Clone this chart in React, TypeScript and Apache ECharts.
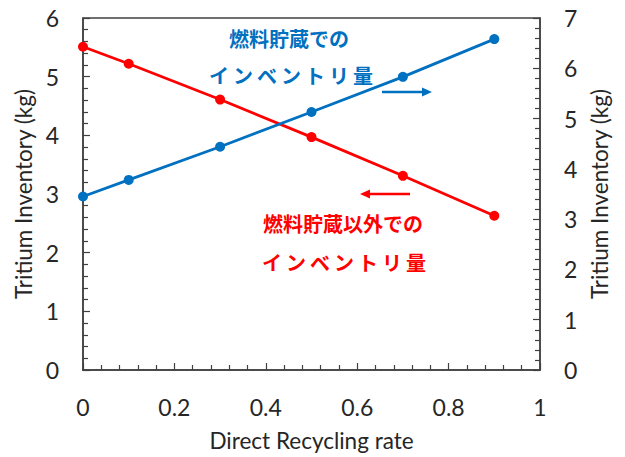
import React, { useEffect, useRef } from "react";
import * as echarts from "echarts";

const xRates = [0, 0.1, 0.3, 0.5, 0.7, 0.9];
const otherInventory = [5.51, 5.22, 4.61, 3.97, 3.31, 2.63];
const storageInventory = [3.45, 3.78, 4.44, 5.13, 5.83, 6.58];
const xTitle = "Direct Recycling rate";
const yTitle = "Tritium Inventory (kg)";
const storageLabel = ["燃料貯蔵での", "インベントリ量"];
const otherLabel = ["燃料貯蔵以外での", "インベントリ量"];

const BLUE = "#0070C0";
const RED = "#FF0000";
const AXIS = "#404040";
const TEXT = "#262626";
const FONT = "Lato, 'Open Sans', sans-serif";
const CJK = "'Noto Sans CJK JP', sans-serif";

export default function App() {
  const ref = useRef<HTMLDivElement>(null);
  useEffect(() => {
    if (!ref.current) return;
    const chart = echarts.init(ref.current, undefined, { renderer: "svg" });
    const axisCommon = {
      axisLine: { show: true, lineStyle: { color: AXIS, width: 1.5 } },
      axisTick: { show: true, inside: true, length: 7, lineStyle: { color: AXIS, width: 1.2 } },
      minorTick: { show: true, splitNumber: 5, length: 5, lineStyle: { color: AXIS, width: 1.2 } },
      splitLine: { show: false },
      axisLabel: { color: TEXT, fontSize: 23, fontFamily: FONT, margin: 24 },
      nameTextStyle: { color: TEXT, fontSize: 22.5, fontFamily: FONT },
    };
    chart.setOption({
      animation: false,
      backgroundColor: "#fff",
      grid: {
        left: 83,
        right: 85,
        top: 18,
        bottom: 85,
        show: true,
        borderColor: AXIS,
        borderWidth: 1.5,
        backgroundColor: "transparent",
      },
      xAxis: {
        type: "value",
        min: 0,
        max: 1,
        interval: 0.2,
        ...axisCommon,
        axisLabel: { ...axisCommon.axisLabel, margin: 25 },
        name: xTitle,
        nameLocation: "middle",
        nameGap: 59,
      },
      yAxis: [
        {
          type: "value",
          min: 0,
          max: 6,
          interval: 1,
          position: "left",
          ...axisCommon,
          name: yTitle,
          nameLocation: "middle",
          nameGap: 44,
          nameRotate: 90,
        },
        {
          type: "value",
          min: 0,
          max: 7,
          interval: 1,
          position: "right",
          ...axisCommon,
          name: yTitle,
          nameLocation: "middle",
          nameGap: 46,
          nameRotate: 90,
        },
      ],
      series: [
        {
          type: "line",
          yAxisIndex: 0,
          data: xRates.map((x, i) => [x, otherInventory[i]]),
          lineStyle: { color: RED, width: 2.8 },
          itemStyle: { color: RED },
          symbol: "circle",
          symbolSize: 10,
        },
        {
          type: "line",
          yAxisIndex: 1,
          data: xRates.map((x, i) => [x, storageInventory[i]]),
          lineStyle: { color: BLUE, width: 2.8 },
          itemStyle: { color: BLUE },
          symbol: "circle",
          symbolSize: 10,
        },
      ],
      graphic: [
        {
          type: "text",
          x: 289,
          y: 38,
          style: { text: storageLabel[0], fill: BLUE, font: `bold 20px ${CJK}`, align: "center", verticalAlign: "middle" },
        },
        {
          type: "text",
          x: 291,
          y: 75,
          style: { text: storageLabel[1].split("").join("\u2009"), fill: BLUE, font: `bold 20px ${CJK}`, align: "center", verticalAlign: "middle" },
        },
        {
          type: "line",
          shape: { x1: 382, y1: 92, x2: 424, y2: 92 },
          style: { stroke: BLUE, lineWidth: 2.5 },
        },
        {
          type: "polygon",
          shape: { points: [[432, 92], [422, 87.5], [422, 96.5]] },
          style: { fill: BLUE },
        },
        {
          type: "line",
          shape: { x1: 368, y1: 194, x2: 410, y2: 194 },
          style: { stroke: RED, lineWidth: 2.5 },
        },
        {
          type: "polygon",
          shape: { points: [[360, 194], [370, 189.5], [370, 198.5]] },
          style: { fill: RED },
        },
        {
          type: "text",
          x: 343,
          y: 223,
          style: { text: otherLabel[0], fill: RED, font: `bold 20px ${CJK}`, align: "center", verticalAlign: "middle" },
        },
        {
          type: "text",
          x: 344,
          y: 262,
          style: { text: otherLabel[1].split("").join("\u2009"), fill: RED, font: `bold 20px ${CJK}`, align: "center", verticalAlign: "middle" },
        },
      ],
    });
    return () => chart.dispose();
  }, []);
  return <div ref={ref} style={{ width: 625, height: 457, position: "absolute", left: 0, top: 0 }} />;
}
